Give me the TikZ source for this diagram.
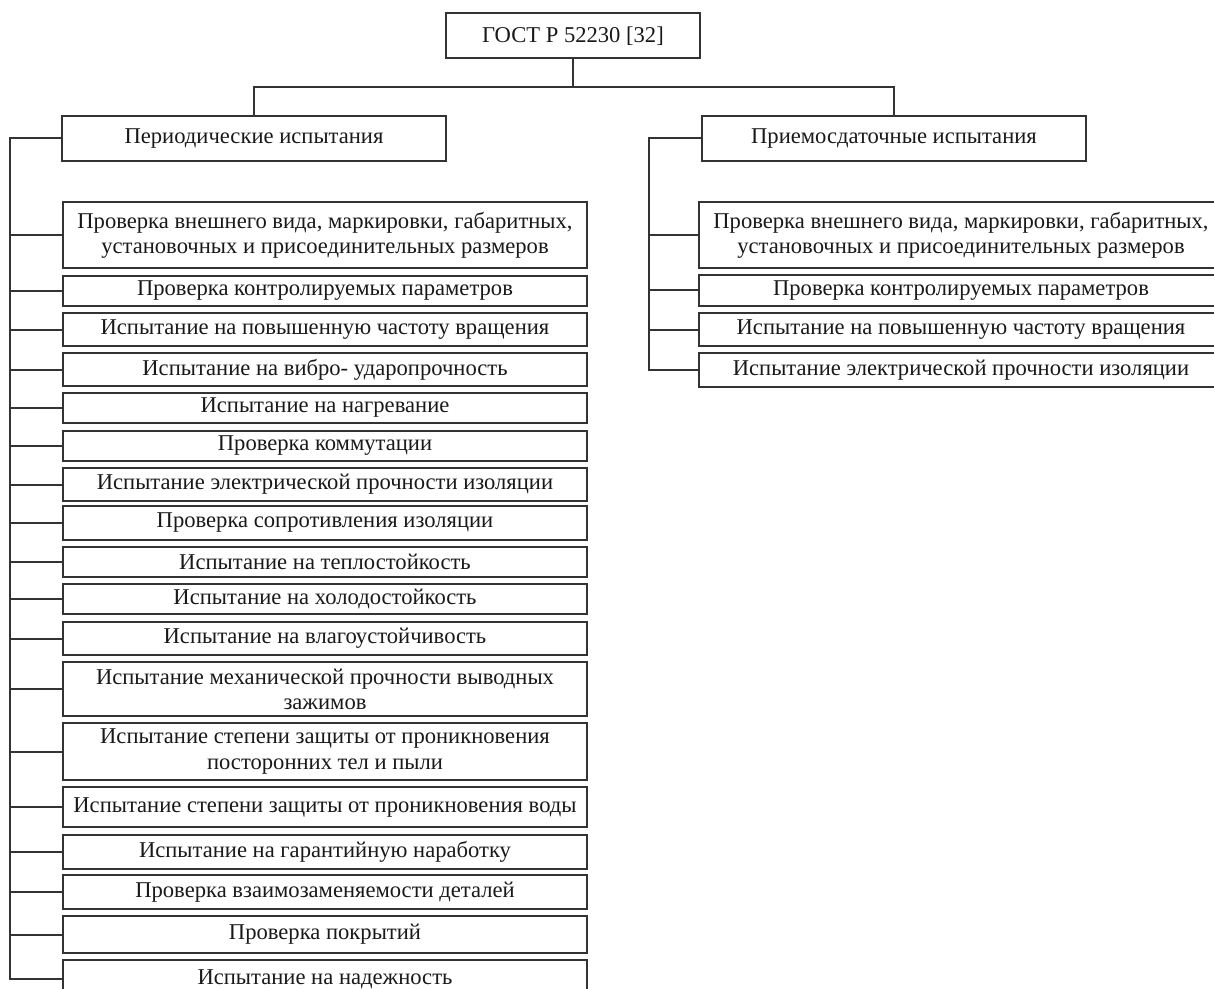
\documentclass[tikz,border=0pt]{standalone}
\usepackage{fontspec}
\setmainfont{Liberation Serif}
\usepackage{tikz}
\usetikzlibrary{positioning}

\begin{document}
\begin{tikzpicture}[x=0.5pt,y=-0.5pt]
    \tikzstyle{LineStyle}=[draw=black!80,line width=1pt]
    \tikzstyle{HeadStyle}=[LineStyle,rectangle,inner xsep=0pt,inner ysep=2pt,align=center,
                           text=black!90,font=\fontsize{11.3}{12.6}\selectfont]
    \tikzstyle{TypeStyle}=[HeadStyle,minimum width=192pt,minimum height=22.5pt]
    \tikzstyle{ItemStyle}=[HeadStyle,minimum width=262pt]
    \useasboundingbox (0,0) rectangle (1214,989);
    % root
    \node[HeadStyle,minimum width=127pt,minimum height=22.5pt] (gost) at (573,36) {ГОСТ Р 52230 [32]};
    \node[TypeStyle] (per) at (254,138.5) {Периодические испытания};
    \node[TypeStyle] (pri) at (894,138.5) {Приемосдаточные испытания};
    \coordinate (top) at (573,87);
    \draw[LineStyle] (gost) -- (top);
    \draw[LineStyle] (per.north) |- (top) -| (pri.north);
    % periodic tests
    \node[ItemStyle,minimum height=33pt] (L1) at (325,235) {Проверка внешнего вида, маркировки, габаритных,\\ установочных и присоединительных размеров};
    \node[ItemStyle,minimum height=15pt] (L2) at (325,291) {Проверка контролируемых параметров};
    \node[ItemStyle,minimum height=16.5pt] (L3) at (325,330) {Испытание на повышенную частоту вращения};
    \node[ItemStyle,minimum height=16.5pt] (L4) at (325,369.5) {Испытание на вибро- ударопрочность};
    \node[ItemStyle,minimum height=15pt] (L5) at (325,408) {Испытание на нагревание};
    \node[ItemStyle,minimum height=15pt] (L6) at (325,445.5) {Проверка коммутации};
    \node[ItemStyle,minimum height=16.5pt] (L7) at (325,484.5) {Испытание электрической прочности изоляции};
    \node[ItemStyle,minimum height=17pt] (L8) at (325,523) {Проверка сопротивления изоляции};
    \node[ItemStyle,minimum height=15pt] (L9) at (325,562) {Испытание на теплостойкость};
    \node[ItemStyle,minimum height=15pt] (L10) at (325,599) {Испытание на холодостойкость};
    \node[ItemStyle,minimum height=16.5pt] (L11) at (325,638.5) {Испытание на влагоустойчивость};
    \node[ItemStyle,minimum height=27pt] (L12) at (325,689) {Испытание механической прочности выводных\\ зажимов};
    \node[ItemStyle,minimum height=28.5pt] (L13) at (325,751.5) {Испытание степени защиты от проникновения\\ посторонних тел и пыли};
    \node[ItemStyle,minimum height=20pt] (L14) at (325,807) {Испытание степени защиты от проникновения воды};
    \node[ItemStyle,minimum height=17pt] (L15) at (325,852) {Испытание на гарантийную наработку};
    \node[ItemStyle,minimum height=17pt] (L16) at (325,892) {Проверка взаимозаменяемости деталей};
    \node[ItemStyle,minimum height=18.5pt] (L17) at (325,934.5) {Проверка покрытий};
    \node[ItemStyle,minimum height=19pt] (L18) at (325,979) {Испытание на надежность};
    \coordinate (lbus) at (10,138.5);
    \coordinate (lend) at (10,979);
    \draw[LineStyle] (per.west) -- (lbus) -- (lend) -- (L18.west);
    \foreach \i in {1,...,17}
        \draw[LineStyle] (L\i.west) -- (L\i.west -| lbus);
    % acceptance tests
    \node[ItemStyle,minimum height=33pt] (R1) at (961,235) {Проверка внешнего вида, маркировки, габаритных,\\ установочных и присоединительных размеров};
    \node[ItemStyle,minimum height=15.5pt] (R2) at (961,290.5) {Проверка контролируемых параметров};
    \node[ItemStyle,minimum height=16.5pt] (R3) at (961,330) {Испытание на повышенную частоту вращения};
    \node[ItemStyle,minimum height=16.5pt] (R4) at (961,370) {Испытание электрической прочности изоляции};
    \coordinate (rbus) at (649,138.5);
    \draw[LineStyle] (pri.west) -- (rbus) |- (R4.west);
    \foreach \i in {1,2,3}
        \draw[LineStyle] (R\i.west) -- (R\i.west -| rbus);
\end{tikzpicture}
\end{document}
